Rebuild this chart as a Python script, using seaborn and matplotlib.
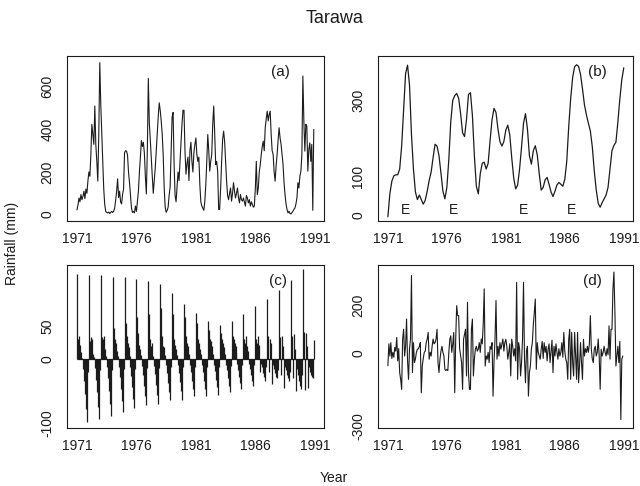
import numpy as np
import pandas as pd
import seaborn as sns
from matplotlib import pyplot as plt

# monthly rainfall (mm), one row per year 1971..1990
rain = [
    [22, 45, 78, 60, 94, 70, 85, 110, 75, 120, 100, 157],
    [200, 180, 282, 424, 376, 330, 510, 329, 250, 157, 380, 714],
    [518, 380, 250, 120, 47, 15, 10, 8, 12, 5, 10, 15],
    [10, 15, 30, 66, 110, 168, 80, 110, 60, 50, 95, 120],
    [290, 300, 298, 280, 200, 150, 90, 30, 10, 15, 8, 40],
    [15, 60, 110, 200, 270, 348, 320, 340, 290, 180, 97, 300],
    [640, 430, 350, 260, 180, 100, 160, 220, 300, 380, 460, 525],
    [490, 440, 380, 282, 129, 35, 11, 20, 35, 90, 129, 300],
    [458, 480, 240, 90, 60, 130, 200, 160, 250, 348, 427, 490],
    [490, 300, 190, 240, 270, 160, 300, 340, 250, 200, 290, 330],
    [360, 282, 250, 270, 141, 60, 40, 31, 20, 60, 140, 250],
    [376, 300, 204, 250, 282, 424, 510, 380, 235, 250, 204, 24],
    [24, 125, 250, 353, 392, 345, 250, 157, 90, 70, 100, 125],
    [63, 100, 150, 110, 78, 100, 125, 80, 55, 94, 70, 63],
    [78, 60, 40, 90, 78, 55, 70, 40, 60, 47, 35, 40],
    [120, 250, 94, 125, 200, 235, 282, 320, 345, 300, 408, 450],
    [486, 440, 470, 486, 376, 300, 282, 200, 157, 230, 282, 350],
    [408, 360, 330, 280, 235, 150, 94, 50, 24, 8, 16, 5],
    [3, 10, 16, 25, 31, 50, 78, 150, 125, 180, 204, 282],
    [651, 440, 298, 424, 415, 204, 306, 337, 250, 330, 20, 400],
]

# smoothed trend, every two months from Jan 1971
trend = [
    -5, 55, 88, 102, 105, 105, 120, 180, 275, 370, 392, 340,
    210, 120, 60, 40, 52, 40, 28, 38, 62, 90, 112, 150,
    185, 180, 155, 109, 62, 42, 72, 145, 245, 300, 312, 318,
    305, 265, 215, 205, 250, 315, 320, 260, 155, 75, 55, 108,
    135, 138, 120, 135, 195, 250, 279, 268, 225, 192, 180, 192,
    222, 235, 210, 150, 97, 68, 78, 120, 178, 240, 265, 225,
    155, 133, 168, 181, 157, 108, 65, 72, 92, 98, 80, 60,
    48, 62, 78, 85, 80, 75, 93, 140, 231, 305, 360, 388,
    393, 389, 368, 330, 288, 262, 240, 220, 178, 115, 65, 30,
    20, 32, 42, 52, 72, 120, 168, 182, 190, 243, 303, 354, 385,
]

# seasonal component, one row per year
seasonal = [
    [131, 30, 35, 22, 10, 2, -15, -35, -55, -78, -98, -20],
    [130, 28, 33, 30, 8, 3, -14, -32, -52, -75, -93, -18],
    [129, 34, 30, 35, 15, 4, -13, -30, -50, -70, -88, -17],
    [127, 48, 30, 25, 12, 4, -12, -28, -47, -66, -83, -16],
    [126, 55, 35, 25, 18, 5, -12, -26, -44, -62, -76, -15],
    [124, 65, 40, 22, 15, 6, -11, -25, -42, -58, -72, -14],
    [121, 70, 30, 20, 25, 5, -11, -24, -40, -56, -70, -14],
    [115, 78, 35, 20, 18, 6, -10, -22, -38, -52, -63, -13],
    [101, 70, 30, 22, 15, 6, -10, -22, -36, -50, -63, -13],
    [84, 65, 35, 25, 20, 7, -10, -20, -35, -47, -58, -12],
    [71, 55, 30, 25, 15, 7, -9, -20, -34, -46, -58, -12],
    [59, 45, 30, 28, 20, 8, -9, -19, -32, -44, -56, -12],
    [52, 40, 30, 25, 18, 8, -9, -18, -30, -42, -52, -11],
    [59, 35, 30, 25, 20, 10, -8, -17, -28, -38, -46, -10],
    [69, 30, 25, 35, 20, 12, -8, -15, -25, -35, -42, -10],
    [81, 30, 25, 35, 22, -20, -8, -12, -22, -28, -34, -12],
    [93, 35, -20, 30, 25, -39, -10, -15, -22, -28, -30, -18],
    [107, 33, -25, 35, 20, -45, -12, -18, -25, -30, -34, -20],
    [122, 35, -30, 38, 15, -50, -15, -25, -35, -42, -47, -25],
    [139, 41, -48, 40, 20, -45, -12, -20, -25, -28, -30, 29],
]

# irregular component, one row per year
irregular = [
    [-50, 40, -10, 45, -20, 5, -15, 25, 10, 66, -30, 20],
    [-78, -106, -147, 59, 100, -10, 30, 142, -30, -106, 20, 60],
    [321, -78, 45, -37, -23, 5, 18, 20, 30, 45, -161, -50],
    [-20, 5, 10, 45, 60, 87, -23, 5, -10, 30, 60, 40],
    [45, 60, 100, -37, -78, -23, 10, 30, 5, -10, -65, -70],
    [-65, -70, 5, 59, 73, 5, 40, 87, -161, 60, 197, 156],
    [156, 20, -10, -37, -147, 59, 80, 100, -92, 211, -78, -147],
    [-147, 100, 142, -92, -23, 18, 30, 10, 18, 45, 5, 60],
    [40, 120, 266, -51, -10, -23, 5, -37, 30, 18, 45, -175],
    [-30, 60, 218, -23, 30, -10, 45, 18, 40, 60, 10, 45],
    [59, 30, -23, 5, 40, -92, 59, 30, -10, 20, -30, 293],
    [-106, 45, 20, -92, -37, 60, 293, -23, -120, 10, 30, -175],
    [-78, -51, 20, 45, 120, 169, 224, -65, 45, 5, -10, -23],
    [18, 50, -20, 45, 5, 30, -30, 18, 40, -37, 10, 55],
    [-78, 30, -10, 40, 5, -23, 20, -10, 5, 45, -15, 87],
    [10, -23, -37, -106, 59, 100, -106, 87, -37, -92, 87, -10],
    [-106, 87, -120, -51, 45, -37, -106, 59, -10, 20, 5, 30],
    [5, 40, 156, 18, -23, -37, 18, 30, -10, 5, 60, -10],
    [-147, 18, -10, 5, 30, 5, -10, 20, -5, 114, -23, 100],
    [100, 266, 335, 169, -51, -10, 30, -37, 50, -271, -23, -10],
]

# El Nino years marked on the trend panel
e_years = [1972.5, 1976.55, 1982.5, 1986.6]

year_ticks = list(range(1971, 1992))
year_labels = [str(y) if (y - 1971) % 5 == 0 else '' for y in year_ticks]

monthly = pd.DataFrame({
    't': 1971 + np.arange(240) / 12,
    'rain': np.ravel(rain),
    'seasonal': np.ravel(seasonal),
    'irregular': np.ravel(irregular),
})
trend_df = pd.DataFrame({'t': 1971 + np.arange(len(trend)) / 6, 'trend': trend})

sns.set_style("white")
plt.rcParams['font.family'] = ['Liberation Sans', 'DejaVu Sans']

ink = '#1c1c1c'
fig = plt.figure(figsize=(6.4, 4.86), dpi=100)
ax_a = fig.add_axes([0.1047, 0.5453, 0.4016, 0.3395])
ax_b = fig.add_axes([0.5906, 0.5453, 0.3984, 0.3395])
ax_c = fig.add_axes([0.1047, 0.1193, 0.4016, 0.3354])
ax_d = fig.add_axes([0.5906, 0.1193, 0.3984, 0.3354])

sns.lineplot(data=monthly, x='t', y='rain', ax=ax_a, color=ink, lw=0.8)
sns.lineplot(data=trend_df, x='t', y='trend', ax=ax_b, color=ink, lw=0.9)
ax_c.vlines(monthly['t'], 0, monthly['seasonal'], color=ink, lw=0.9)
ax_c.hlines(0, monthly['t'].iloc[0], monthly['t'].iloc[-1], color=ink, lw=0.9)
sns.lineplot(data=monthly, x='t', y='irregular', ax=ax_d, color=ink, lw=0.8)

for x in e_years:
    ax_b.text(x, 13, 'E', ha='center', va='center', fontsize=10, color=ink)

setup = [
    (ax_a, '(a)', (-30, 745), [0, 200, 400, 600], ['0', '200', '400', '600'], 0.83),
    (ax_b, '(b)', (-16, 416), [0, 100, 200, 300, 400], ['0', '100', '', '300', ''], 0.86),
    (ax_c, '(c)', (-107, 145), [-100, -50, 0, 50, 100], ['-100', '', '0', '50', ''], 0.82),
    (ax_d, '(d)', (-306, 364), [-300, -200, -100, 0, 100, 200, 300],
     ['-300', '', '', '0', '', '200', ''], 0.84),
]
for ax, tag, ylim, yt, yl, tx in setup:
    ax.set_xlim(1970.16, 1991.78)
    ax.set_ylim(*ylim)
    ax.set_xticks(year_ticks, year_labels)
    ax.set_yticks(yt, yl)
    plt.setp(ax.get_yticklabels(), rotation=90, va='center')
    ax.tick_params(direction='in', length=3, width=0.7, colors=ink, labelsize=10)
    ax.tick_params(axis='x', pad=8)
    ax.tick_params(axis='y', pad=9)
    ax.set_xlabel('')
    ax.set_ylabel('')
    for s in ax.spines.values():
        s.set_color(ink)
        s.set_linewidth(0.8)
    ax.text(tx, 0.905, tag, transform=ax.transAxes, ha='center', va='center',
            fontsize=11, color=ink)

fig.text(0.523, 0.961, 'Tarawa', ha='center', va='center', fontsize=13, color=ink)
fig.text(0.019, 0.5, 'Rainfall (mm)', rotation=90, ha='center', va='center',
         fontsize=10, color=ink)
fig.text(0.522, 0.016, 'Year', ha='center', va='center', fontsize=10, color=ink)

plt.savefig('out.png', dpi=100)
